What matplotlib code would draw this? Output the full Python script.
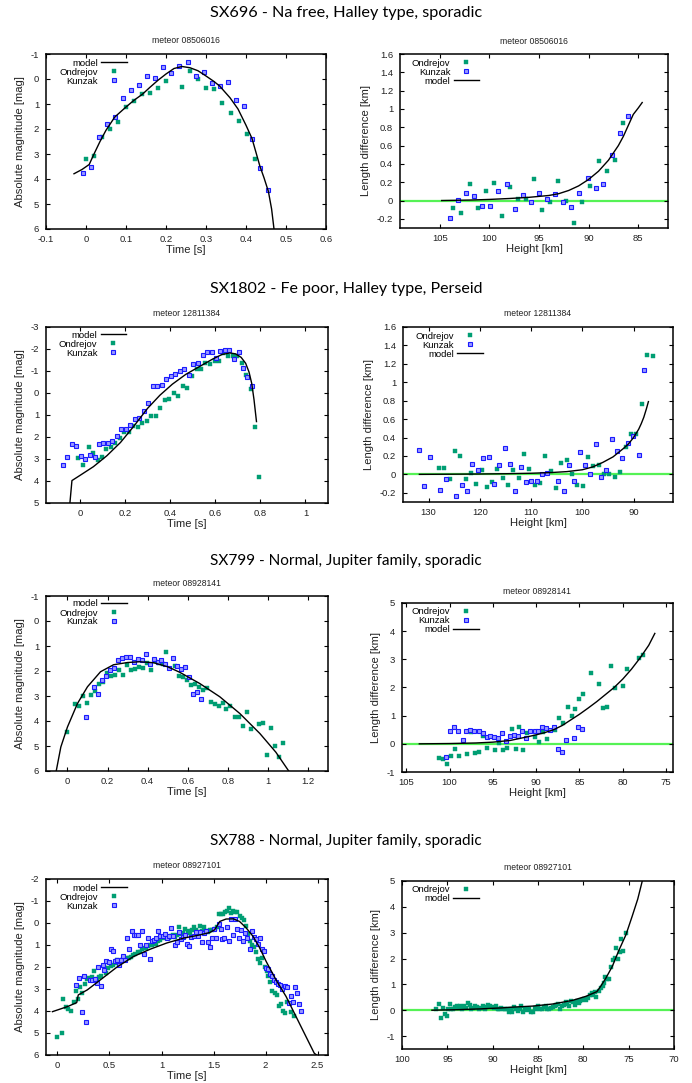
import numpy as np
import matplotlib
matplotlib.use('Agg')
import matplotlib.pyplot as plt
from matplotlib.ticker import FuncFormatter

plt.rcParams['font.family'] = ['Liberation Sans', 'DejaVu Sans']
plt.rcParams['axes.unicode_minus'] = False

# ---------------- titles ----------------
row_titles = ["SX696 - Na free, Halley type, sporadic",
              "SX1802 - Fe poor, Halley type, Perseid",
              "SX799 - Normal, Jupiter family, sporadic",
              "SX788 - Normal, Jupiter family, sporadic"]
meteor_ids = ["meteor 08506016", "meteor 12811384", "meteor 08928141", "meteor 08927101"]

# ---------------- panel 1: SX696 light curve ----------------
p1_ond = np.array([(0.001, 3.21), (0.021, 3.07), (0.041, 2.31), (0.061, 2.01), (0.081, 1.73), (0.101, 1.12),
                   (0.121, 0.89), (0.141, 0.61), (0.161, 0.57), (0.181, 0.37), (0.201, 0.09), (0.241, 0.33),
                   (0.261, -0.31), (0.281, -0.02), (0.301, 0.34), (0.321, 0.38), (0.341, 0.97), (0.3625, 1.37),
                   (0.3825, 1.69), (0.4025, 2.21), (0.4225, 3.21)])
p1_kun = np.array([(-0.008, 3.75), (0.012, 3.51), (0.032, 2.31), (0.052, 1.78), (0.072, 1.52), (0.0925, 0.74),
                   (0.1125, 0.45), (0.1325, 0.24), (0.1525, -0.12), (0.1725, -0.06), (0.1925, -0.47), (0.213, -0.25),
                   (0.233, -0.51), (0.254, -0.67), (0.274, -0.12), (0.294, -0.29), (0.314, 0.14), (0.334, 0.28),
                   (0.355, 0.10), (0.375, 0.82), (0.395, 1.08), (0.415, 2.38), (0.435, 3.54), (0.456, 4.43)])
p1_mod = np.array([(-0.03, 3.79), (-0.01, 3.62), (0.008, 3.42), (0.02, 3.0), (0.035, 2.5), (0.05, 2.05),
                   (0.072, 1.52), (0.1, 1.12), (0.12, 0.85), (0.141, 0.61), (0.16, 0.33), (0.18, 0.05),
                   (0.2, -0.2), (0.22, -0.42), (0.24, -0.5), (0.26, -0.45), (0.28, -0.33), (0.3, -0.12),
                   (0.32, 0.1), (0.334, 0.28), (0.36, 0.75), (0.38, 1.2), (0.4, 1.85), (0.415, 2.38),
                   (0.435, 3.5), (0.445, 3.95), (0.456, 4.5), (0.464, 5.2), (0.47, 6.0)])

# ---------------- panel 2: SX696 length difference ----------------
p2_ond = np.array([(103.69, -0.084), (102.82, -0.139), (101.97, 0.183), (101.17, -0.084), (100.36, 0.103),
                   (99.55, 0.19), (98.75, -0.172), (97.94, 0.146), (97.13, 0.018), (96.33, 0.018), (95.52, 0.234),
                   (94.71, -0.106), (93.91, -0.015), (93.10, 0.212), (92.29, -0.007), (91.49, -0.249),
                   (90.68, -0.015), (89.81, 0.157), (88.97, 0.432), (88.16, 0.322), (87.35, 0.443), (86.55, 0.85)])
p2_kun = np.array([(103.96, -0.19), (103.12, 0.011), (102.31, 0.077), (101.50, 0.044), (100.70, -0.055),
                   (99.89, -0.055), (99.08, 0.099), (98.24, 0.179), (97.44, -0.088), (96.63, 0.059),
                   (95.82, -0.015), (95.02, 0.077), (94.18, 0.018), (93.37, 0.073), (92.56, -0.018),
                   (91.76, -0.073), (90.92, 0.077), (90.11, 0.245), (89.30, 0.135), (88.50, 0.183),
                   (87.69, 0.498), (86.88, 0.732), (86.08, 0.919)])
p2_mod = np.array([(104.8, 0.0), (102, 0.005), (100, 0.012), (98, 0.022), (96, 0.035), (94, 0.055), (93, 0.075),
                   (92, 0.11), (91, 0.16), (90, 0.23), (89, 0.32), (88, 0.44), (87, 0.6), (86.5, 0.7), (86, 0.82),
                   (85.5, 0.94), (85, 1.01), (84.6, 1.07)])

# ---------------- panel 3: SX1802 light curve ----------------
p3_ond = np.array([(-0.007, 2.96), (0.016, 3.28), (0.040, 2.46), (0.057, 2.74), (0.079, 3.05), (0.097, 2.92),
                   (0.117, 2.55), (0.136, 2.46), (0.157, 2.27), (0.176, 2.03), (0.196, 1.78), (0.217, 1.78),
                   (0.236, 1.50), (0.257, 1.56), (0.277, 1.36), (0.298, 1.29), (0.317, 1.05), (0.337, 1.05),
                   (0.356, 0.70), (0.377, 0.34), (0.397, 0.25), (0.416, 0.02), (0.437, 0.12), (0.457, -0.33),
                   (0.477, -0.21), (0.497, -0.77), (0.518, -1.10), (0.537, -1.08), (0.557, -1.38), (0.576, -1.34),
                   (0.597, -1.45), (0.617, -1.45), (0.636, -1.82), (0.657, -1.70), (0.677, -1.70), (0.696, -1.70),
                   (0.717, -1.38), (0.736, -0.84), (0.757, -0.18), (0.777, 1.56), (0.796, 3.82)])
p3_kun = np.array([(-0.076, 3.26), (-0.056, 2.90), (-0.035, 2.33), (-0.015, 2.39), (0.004, 2.86), (0.025, 2.99),
                   (0.044, 2.84), (0.065, 2.90), (0.084, 2.30), (0.104, 2.25), (0.125, 2.25), (0.144, 2.18),
                   (0.164, 1.94), (0.183, 1.63), (0.204, 1.62), (0.223, 1.45), (0.243, 1.18), (0.264, 1.12),
                   (0.283, 0.82), (0.304, 0.47), (0.324, -0.34), (0.343, -0.34), (0.364, -0.37), (0.384, -0.62),
                   (0.403, -0.77), (0.424, -0.87), (0.444, -1.01), (0.463, -1.10), (0.484, -0.81), (0.503, -1.31),
                   (0.523, -1.35), (0.544, -1.72), (0.563, -1.85), (0.584, -1.85), (0.604, -1.61), (0.623, -1.91),
                   (0.643, -1.94), (0.663, -1.97), (0.683, -1.55), (0.704, -1.85), (0.723, -1.14), (0.743, -0.74),
                   (0.764, -0.31)])
p3_mod = np.array([(-0.044, 5.0), (-0.035, 3.98), (0.0, 3.75), (0.06, 3.35), (0.12, 2.85), (0.18, 2.25),
                   (0.24, 1.5), (0.3, 0.7), (0.355, 0.1), (0.41, -0.4), (0.47, -0.85), (0.53, -1.2), (0.59, -1.55),
                   (0.63, -1.75), (0.665, -1.82), (0.69, -1.78), (0.715, -1.62), (0.735, -1.35), (0.75, -0.95),
                   (0.762, -0.43), (0.772, 0.3), (0.783, 1.3)])

# ---------------- panel 4: SX1802 length difference ----------------
p4_ond = np.array([(128.04, 0.072), (127.06, 0.072), (125.88, -0.047), (124.90, 0.257), (123.92, 0.203),
                   (122.75, -0.054), (121.76, 0.018), (120.78, -0.101), (119.61, 0.051), (118.63, -0.134),
                   (117.65, -0.080), (116.67, 0.062), (115.49, -0.036), (114.51, -0.112), (113.53, 0.051),
                   (112.35, -0.036), (111.37, 0.224), (110.39, 0.062), (109.22, -0.112), (108.24, -0.090),
                   (107.25, 0.203), (106.08, 0.040), (105.10, -0.145), (104.12, 0.127), (102.94, 0.159),
                   (101.96, 0.007), (100.98, -0.112), (99.80, -0.123), (98.82, 0.192), (97.84, 0.094),
                   (96.67, 0.105), (95.69, 0.007), (94.71, 0.007), (93.53, -0.025), (92.55, 0.029),
                   (91.57, 0.300), (90.59, 0.442), (89.61, 0.434), (88.43, 0.767), (87.45, 1.30), (86.27, 1.289)])
p4_kun = np.array([(131.96, 0.268), (130.85, -0.127), (129.74, 0.192), (127.71, -0.170), (126.60, -0.047),
                   (124.58, -0.235), (123.53, -0.116), (122.42, -0.177), (121.44, 0.112), (120.39, 0.043),
                   (119.35, 0.174), (118.30, 0.192), (117.25, -0.101), (116.21, 0.101), (115.16, 0.290),
                   (114.12, 0.112), (113.07, -0.181), (112.03, 0.083), (110.98, -0.087), (109.93, -0.072),
                   (108.89, -0.076), (107.84, 0.0), (106.80, 0.014), (104.71, -0.072), (103.66, -0.181),
                   (102.61, 0.101), (101.57, -0.072), (100.52, 0.243), (99.48, 0.105), (98.43, 0.007),
                   (97.39, 0.326), (96.34, -0.029), (95.29, 0.047), (94.25, 0.380), (93.20, 0.257),
                   (92.16, 0.181), (91.11, 0.337), (90.07, 0.420), (89.02, 0.214), (87.97, 1.129)])
p4_mod = np.array([(131.8, 0.0), (125, 0.002), (120, 0.004), (115, 0.007), (110, 0.012), (106, 0.02), (103, 0.03),
                   (100, 0.05), (98, 0.08), (96, 0.13), (94, 0.19), (92, 0.28), (91, 0.33), (90, 0.40), (89, 0.49),
                   (88.5, 0.55), (88, 0.62), (87.5, 0.71), (87.1, 0.79)])

# ---------------- panel 5: SX799 light curve ----------------
p5_ond = np.array([(0.0, 4.42), (0.040, 3.30), (0.060, 3.41), (0.079, 2.98), (0.099, 3.26), (0.119, 2.94),
                   (0.139, 2.78), (0.159, 2.50), (0.179, 2.43), (0.198, 2.09), (0.218, 2.21), (0.238, 2.14),
                   (0.258, 1.94), (0.278, 2.14), (0.298, 1.75), (0.317, 1.94), (0.337, 1.90), (0.357, 1.82),
                   (0.377, 1.86), (0.397, 1.66), (0.417, 1.94), (0.436, 1.58), (0.456, 1.66), (0.476, 1.70),
                   (0.493, 1.22), (0.536, 1.78), (0.555, 2.18), (0.575, 2.22), (0.595, 2.34), (0.615, 2.54),
                   (0.635, 2.50), (0.655, 2.62), (0.674, 2.74), (0.694, 2.66), (0.714, 3.22), (0.734, 3.30),
                   (0.754, 3.41), (0.774, 3.26), (0.793, 3.50), (0.813, 3.41), (0.836, 3.82), (0.856, 3.82),
                   (0.876, 4.18), (0.896, 3.62), (0.916, 4.30), (0.955, 4.10), (0.975, 4.06), (0.995, 5.35),
                   (1.015, 4.26), (1.035, 4.98), (1.055, 5.43), (1.074, 4.86)])
p5_kun = np.array([(0.093, 3.82), (0.132, 2.62), (0.152, 2.91), (0.172, 2.34), (0.192, 2.19), (0.212, 1.94),
                   (0.231, 1.86), (0.251, 1.55), (0.271, 1.48), (0.291, 1.44), (0.311, 1.44), (0.331, 1.62),
                   (0.350, 1.51), (0.370, 1.55), (0.390, 1.30), (0.410, 1.70), (0.430, 1.51), (0.450, 1.63),
                   (0.469, 1.55), (0.489, 1.70), (0.509, 1.87), (0.529, 1.47), (0.549, 1.81), (0.569, 1.93),
                   (0.588, 1.82), (0.608, 2.25), (0.628, 2.91), (0.648, 2.85), (0.668, 3.13)])
p5_mod = np.array([(-0.056, 6.0), (-0.033, 5.04), (0.0, 4.24), (0.05, 3.3), (0.1, 2.63), (0.165, 2.03),
                   (0.23, 1.75), (0.3, 1.66), (0.36, 1.63), (0.43, 1.67), (0.5, 1.83), (0.56, 2.05), (0.66, 2.5),
                   (0.76, 3.03), (0.86, 3.7), (0.96, 4.5), (1.04, 5.25), (1.104, 6.0)])

# ---------------- panel 6: SX799 length difference ----------------
p6_ond = np.array([(101.22, -0.51), (100.73, -0.54), (100.32, -0.71), (99.86, -0.44), (99.41, -0.17),
                   (98.88, -0.44), (97.97, -0.37), (97.48, 0.42), (97.03, -0.33), (96.58, -0.28), (96.12, 0.27),
                   (95.67, -0.15), (94.76, -0.22), (94.31, 0.02), (93.86, -0.22), (93.40, -0.15), (92.84, 0.52),
                   (92.38, -0.19), (91.93, 0.59), (91.48, -0.22), (91.02, 0.38), (90.12, 0.24), (89.66, 0.06),
                   (89.21, 0.41), (88.76, 0.17), (87.85, 0.48), (87.40, 0.90), (86.94, 0.73), (86.38, 1.30),
                   (85.92, 0.98), (85.47, 1.23), (85.01, 1.58), (84.56, 1.76), (83.66, 2.50), (82.75, 2.11),
                   (82.29, 1.26), (81.84, 1.30), (81.39, 2.75), (80.94, 1.97), (79.92, 2.04), (79.46, 2.64),
                   (78.10, 3.04), (77.65, 3.17)])
p6_kun = np.array([(100.39, -0.45), (99.94, 0.46), (99.48, 0.61), (98.99, 0.44), (98.50, 0.15), (98.09, 0.44),
                   (97.63, 0.50), (97.14, 0.44), (96.65, 0.44), (96.20, 0.40), (95.74, 0.26), (95.29, 0.29),
                   (94.84, 0.26), (94.38, 0.19), (93.93, 0.38), (93.44, 0.09), (92.99, 0.29), (92.53, 0.32),
                   (92.08, 0.29), (91.63, 0.46), (91.17, 0.19), (90.72, 0.47), (90.19, 0.44), (89.74, 0.44),
                   (89.28, 0.61), (88.83, 0.57), (88.38, 0.50), (87.92, 0.61), (87.47, -0.20), (86.98, -0.28),
                   (86.53, 0.13), (85.62, 0.20), (85.17, 0.60), (84.68, 0.52)])
p6_mod = np.array([(103.5, 0.0), (100, 0.01), (97, 0.03), (95, 0.06), (93, 0.12), (91, 0.25), (90, 0.32),
                   (89, 0.40), (88, 0.50), (87, 0.65), (86, 0.85), (85, 1.05), (84, 1.27), (83, 1.50), (82, 1.75),
                   (81, 2.0), (80, 2.3), (79, 2.65), (78, 3.05), (77, 3.5), (76.3, 3.92)])

# ---------------- panel 7: SX788 light curve ----------------
p7_ond = np.array([(0.0, 5.2), (0.04, 4.98), (0.057, 3.47), (0.085, 3.83), (0.105, 3.92), (0.13, 3.98),
                   (0.16, 3.57), (0.175, 3.1), (0.2, 3.45), (0.22, 2.9), (0.24, 3.2), (0.26, 2.75), (0.28, 2.55),
                   (0.3, 2.5), (0.33, 2.45), (0.35, 2.2), (0.38, 2.55), (0.4, 2.45), (0.42, 2.4), (0.45, 1.95),
                   (0.47, 2.25), (0.49, 2.05), (0.51, 1.95), (0.53, 1.9), (0.55, 1.8), (0.57, 1.7), (0.59, 1.75),
                   (0.62, 1.7), (0.64, 1.6), (0.67, 1.6), (0.69, 1.6), (0.71, 1.55), (0.73, 1.45), (0.75, 1.4),
                   (0.77, 1.3), (0.79, 1.3), (0.81, 1.2), (0.83, 1.15), (0.85, 1.12), (0.87, 1.05), (0.89, 1.0),
                   (0.91, 1.0), (0.93, 0.9), (0.95, 0.95), (0.97, 0.82), (0.99, 0.78), (1.01, 0.7), (1.03, 0.65),
                   (1.05, 0.65), (1.07, 0.7), (1.09, 0.6), (1.11, 0.55), (1.13, 0.65), (1.15, 0.55), (1.17, 0.2),
                   (1.19, 0.5), (1.21, 0.45), (1.23, 0.25), (1.25, 0.35), (1.27, 0.45), (1.29, 0.3), (1.31, 0.2),
                   (1.33, 0.3), (1.35, 0.4), (1.37, 0.15), (1.39, 0.35), (1.41, 0.2), (1.43, 0.35), (1.45, 0.4),
                   (1.47, 0.3), (1.49, 0.3), (1.51, 0.25), (1.53, 0.2), (1.55, -0.4), (1.57, -0.42), (1.59, -0.4),
                   (1.61, -0.5), (1.63, -0.55), (1.65, -0.7), (1.67, -0.45), (1.69, -0.55), (1.71, -0.5),
                   (1.73, -0.5), (1.75, -0.3), (1.77, -0.25), (1.79, -0.15), (1.81, 0.15), (1.83, 0.5),
                   (1.85, 0.8), (1.87, 1.0), (1.89, 1.1), (1.91, 1.3), (1.93, 1.65), (1.95, 1.8), (1.97, 1.6),
                   (1.99, 2.0), (2.01, 2.2), (2.02, 2.39), (2.04, 2.69), (2.06, 3.09), (2.09, 3.16), (2.11, 3.28),
                   (2.13, 3.75), (2.15, 3.68), (2.17, 3.98), (2.19, 4.07), (2.21, 3.59), (2.24, 4.04), (2.27, 4.22)])
p7_kun = np.array([(0.175, 2.83), (0.21, 2.52), (0.232, 4.03), (0.252, 2.42), (0.277, 4.50), (0.312, 2.57),
                   (0.334, 2.57), (0.357, 2.55), (0.376, 2.71), (0.392, 2.01), (0.414, 2.86), (0.433, 1.90),
                   (0.452, 2.13), (0.471, 1.72), (0.494, 1.75), (0.513, 1.16), (0.532, 1.26), (0.554, 1.73),
                   (0.573, 1.66), (0.592, 1.89), (0.611, 1.70), (0.634, 1.49), (0.653, 1.69), (0.672, 0.70),
                   (0.691, 1.19), (0.713, 0.35), (0.732, 0.55), (0.752, 0.55), (0.771, 0.55), (0.793, 1.02),
                   (0.812, 0.35), (0.831, 1.40), (0.850, 1.02), (0.873, 0.69), (0.892, 1.64), (0.911, 0.84),
                   (0.930, 0.79), (0.949, 0.69), (0.971, 0.37), (0.990, 0.61), (1.01, 0.58), (1.029, 0.50),
                   (1.051, 0.69), (1.07, 0.58), (1.089, 0.22), (1.108, 0.58), (1.127, 0.98), (1.15, 0.85),
                   (1.169, 0.43), (1.188, 0.73), (1.207, 0.64), (1.229, 0.55), (1.248, 0.94), (1.268, 1.05),
                   (1.287, 0.63), (1.309, 0.58), (1.328, 0.40), (1.347, 0.58), (1.366, 0.40), (1.389, 0.87),
                   (1.408, 0.44), (1.427, 0.38), (1.446, 0.88), (1.468, 1.10), (1.487, 0.69), (1.506, 0.28),
                   (1.525, 0.69), (1.548, 0.05), (1.567, 0.25), (1.586, 0.73), (1.605, 0.66), (1.627, 0.16),
                   (1.646, 0.81), (1.666, -0.18), (1.688, 0.54), (1.707, -0.18), (1.726, 0.26), (1.745, 0.66),
                   (1.768, 0.34), (1.787, 0.82), (1.806, 0.46), (1.825, 0.69), (1.847, 1.16), (1.866, 0.37),
                   (1.885, 0.63), (1.904, 0.73), (1.927, 0.96), (1.946, 0.69), (1.965, 1.19), (1.984, 1.29),
                   (2.003, 2.04), (2.025, 2.07), (2.045, 2.34), (2.064, 2.43), (2.083, 2.58), (2.105, 2.66),
                   (2.124, 2.75), (2.143, 2.83), (2.162, 2.99), (2.185, 2.86), (2.204, 2.93), (2.223, 3.62),
                   (2.242, 3.34), (2.264, 3.59), (2.283, 2.90), (2.303, 3.19), (2.322, 3.69), (2.341, 4.01)])
p7_mod = np.array([(-0.048, 4.03), (0.096, 3.8), (0.185, 3.62), (0.2, 3.27), (0.287, 3.04), (0.414, 2.58),
                   (0.573, 2.0), (0.732, 1.52), (0.892, 1.19), (1.05, 0.91), (1.21, 0.69), (1.37, 0.54),
                   (1.465, 0.43), (1.51, 0.31), (1.56, -0.07), (1.62, -0.18), (1.69, -0.19), (1.75, -0.07),
                   (1.815, 0.23), (1.88, 0.61), (1.94, 1.1), (2.006, 1.75), (2.10, 2.58), (2.197, 3.34),
                   (2.325, 4.56), (2.468, 5.92), (2.49, 6.0)])

# ---------------- panel 8: SX788 length difference ----------------
p8_ond = np.array([(96.25, 0.03), (95.92, 0.26), (95.67, -0.30), (95.48, 0.09), (95.30, -0.13), (95.08, -0.21),
                   (94.90, 0.06), (94.75, 0.26), (94.56, 0.03), (94.34, 0.06), (94.16, 0.13), (93.98, 0.18),
                   (93.76, 0.09), (93.57, 0.15), (93.35, 0.03), (93.17, 0.18), (92.95, 0.09), (92.73, 0.28),
                   (92.54, 0.22), (92.36, 0.05), (92.14, 0.09), (91.92, 0.15), (91.74, 0.13), (91.52, 0.05),
                   (91.30, 0.09), (91.11, 0.15), (90.89, 0.05), (90.71, 0.13), (90.49, 0.22), (90.30, 0.15),
                   (90.08, 0.13), (89.86, 0.09), (89.68, 0.15), (89.46, 0.05), (89.28, 0.03), (89.06, 0.09),
                   (88.87, 0.05), (88.65, 0.03), (88.43, 0.06), (88.25, -0.05), (88.03, 0.03), (87.84, -0.05),
                   (87.62, 0.13), (87.44, 0.06), (87.22, -0.03), (87.04, 0.05), (86.82, 0.15), (86.63, -0.05),
                   (86.41, 0.03), (86.23, 0.0), (86.01, 0.06), (85.82, -0.05), (85.60, -0.05), (85.38, 0.09),
                   (85.20, 0.03), (84.98, 0.15), (84.80, 0.06), (84.58, 0.03), (84.39, 0.13), (84.17, 0.18),
                   (83.99, 0.06), (83.77, 0.03), (83.58, 0.09), (83.36, 0.13), (83.14, 0.15), (82.96, 0.22),
                   (82.74, 0.26), (82.56, 0.06), (82.34, 0.15), (82.15, 0.22), (81.93, 0.31), (81.75, 0.26),
                   (81.53, 0.18), (81.34, 0.35), (81.12, 0.31), (80.90, 0.22), (80.72, 0.35), (80.50, 0.28),
                   (80.32, 0.35), (80.10, 0.41), (79.88, 0.44), (79.69, 0.39), (79.47, 0.48), (79.29, 0.57),
                   (79.07, 0.67), (78.88, 0.57), (78.66, 0.69), (78.55, 0.51), (78.26, 0.73), (78.08, 0.86),
                   (77.86, 0.93), (77.67, 1.05), (77.56, 1.29), (77.34, 1.21), (77.16, 1.21), (76.94, 1.67),
                   (76.75, 1.93), (76.53, 2.02), (76.35, 2.40), (76.13, 1.98), (75.95, 2.25), (75.84, 2.75),
                   (75.62, 2.31), (75.32, 2.98)])
p8_mod = np.array([(96.7, 0.0), (94, 0.02), (91.5, 0.05), (89, 0.09), (87.8, 0.12), (85.6, 0.16), (83.4, 0.24),
                   (81.2, 0.38), (79.7, 0.54), (78.5, 0.72), (78.1, 0.92), (77.5, 1.25), (76.8, 1.7), (76.1, 2.3),
                   (75.3, 2.92), (74.6, 3.65), (74.0, 4.3), (73.5, 5.0)])

# ---------------- axis labels ----------------
mag_label = "Absolute magnitude [mag]"
len_label = "Length difference [km]"
time_label = "Time [s]"
height_label = "Height [km]"

# ---------------- figure ----------------
W, H = 692, 1083
fig = plt.figure(figsize=(W / 100, H / 100), dpi=100)

GREEN = '#009e73'
BLUE_EDGE = '#1a1aff'
BLUE_FACE = '#9a9aff'
ZERO = '#55f255'


def ax_at(x0, y0, x1, y1):
    return fig.add_axes([x0 / W, 1 - y1 / H, (x1 - x0) / W, (y1 - y0) / H])


fmt = FuncFormatter(lambda v, p: f'{v:g}')


def style(ax, xlim, ylim, xticks, yticks, xlabel, ylabel):
    ax.set_xlim(*xlim)
    ax.set_ylim(*ylim)
    ax.set_xticks(xticks)
    ax.set_yticks(yticks)
    ax.xaxis.set_major_formatter(fmt)
    ax.yaxis.set_major_formatter(fmt)
    ax.tick_params(direction='in', top=True, right=True, length=3.2, width=0.8,
                   labelsize=6.8, colors='black', labelcolor='#222222')
    ax.tick_params(axis='x', pad=4.2)
    ax.tick_params(axis='y', pad=5)
    for s in ax.spines.values():
        s.set_linewidth(1.1)
    ax.set_xlabel(xlabel, fontsize=8.1, labelpad=0.8, color='#222222')
    ax.set_ylabel(ylabel, fontsize=8.1, labelpad=3.8, color='#222222')


def pts_ond(ax, d):
    ax.plot(d[:, 0], d[:, 1], ls='none', marker='s', ms=2.4, mfc=GREEN, mec=GREEN, mew=0.3,
            label='Ondrejov', zorder=3)


def pts_kun(ax, d):
    ax.plot(d[:, 0], d[:, 1], ls='none', marker='s', ms=3.2, mfc=BLUE_FACE, mec=BLUE_EDGE, mew=0.8,
            label='Kunzak', zorder=3)


def model(ax, d):
    ax.plot(d[:, 0], d[:, 1], color='black', lw=1.0, label='model', zorder=4)


def legend(ax, xa, ya=0.974):
    ax.legend(loc='upper right', bbox_to_anchor=(xa, ya), markerfirst=False, frameon=False,
              fontsize=6.8, handlelength=2.7, handletextpad=0.35, labelspacing=0.0,
              borderpad=0, borderaxespad=0, numpoints=1)


# panel 1
a1 = ax_at(46, 54, 326, 229)
model(a1, p1_mod); pts_ond(a1, p1_ond); pts_kun(a1, p1_kun)
style(a1, (-0.1, 0.6), (6, -1), np.arange(-0.1, 0.61, 0.1), np.arange(-1, 7, 1), time_label, mag_label)
legend(a1, 0.289)

# panel 2
a2 = ax_at(400, 54, 668, 228)
a2.axhline(0, color=ZERO, lw=1.6, zorder=1)
pts_ond(a2, p2_ond); pts_kun(a2, p2_kun); model(a2, p2_mod)
style(a2, (109, 82), (-0.3, 1.6), [105, 100, 95, 90, 85], np.arange(-0.2, 1.61, 0.2), height_label, len_label)
legend(a2, 0.295)

# panel 3
a3 = ax_at(46, 327, 328, 503)
model(a3, p3_mod); pts_ond(a3, p3_ond); pts_kun(a3, p3_kun)
style(a3, (-0.15, 1.1), (5, -3), [0, 0.2, 0.4, 0.6, 0.8, 1], np.arange(-3, 6, 1), time_label, mag_label)
legend(a3, 0.284, 0.98)

# panel 4
a4 = ax_at(403, 327, 673, 502)
a4.axhline(0, color=ZERO, lw=1.6, zorder=1)
pts_ond(a4, p4_ond); pts_kun(a4, p4_kun); model(a4, p4_mod)
style(a4, (135, 82.3), (-0.3, 1.6), [130, 120, 110, 100, 90], np.arange(-0.2, 1.61, 0.2), height_label, len_label)
legend(a4, 0.296)

# panel 5
a5 = ax_at(46, 596, 328, 771)
model(a5, p5_mod); pts_ond(a5, p5_ond); pts_kun(a5, p5_kun)
style(a5, (-0.107, 1.3), (6, -1), [0, 0.2, 0.4, 0.6, 0.8, 1, 1.2], np.arange(-1, 7, 1), time_label, mag_label)
legend(a5, 0.287, 0.98)

# panel 6
a6 = ax_at(402, 603, 673, 772)
a6.axhline(0, color=ZERO, lw=1.6, zorder=1)
pts_ond(a6, p6_ond); pts_kun(a6, p6_kun); model(a6, p6_mod)
style(a6, (105.5, 74.2), (-1, 5), [105, 100, 95, 90, 85, 80, 75], np.arange(-1, 6, 1), height_label, len_label)
legend(a6, 0.284)

# panel 7
a7 = ax_at(46, 879, 328, 1055)
model(a7, p7_mod); pts_ond(a7, p7_ond); pts_kun(a7, p7_kun)
style(a7, (-0.11, 2.6), (6, -2), [0, 0.5, 1, 1.5, 2, 2.5], np.arange(-2, 7, 1), time_label, mag_label)
legend(a7, 0.287)

# panel 8
a8 = ax_at(402, 881, 674, 1049)
a8.axhline(0, color=ZERO, lw=1.6, zorder=1)
pts_ond(a8, p8_ond); model(a8, p8_mod)
style(a8, (100, 70), (-1.5, 5), [100, 95, 90, 85, 80, 75, 70], np.arange(-1, 6, 1), height_label, len_label)
legend(a8, 0.283)

# subtitles
sub_pos = [((186, 40.7), (534, 41.7)), ((187, 313), (538, 313)), ((187, 583), (537, 591)), ((187, 865), (538, 867))]
for mid, (pl, pr) in zip(meteor_ids, sub_pos):
    for (x, y) in (pl, pr):
        fig.text(x / W, 1 - y / H, mid, ha='center', va='center', fontsize=6.2, color='#222222')

# row titles (scaled to reference width)
title_baselines = [17.3, 292.5, 565, 845]
r = fig.canvas.get_renderer()
for t, yb in zip(row_titles, title_baselines):
    tx = fig.text(0.5, 1 - yb / H, t, ha='center', va='baseline', fontsize=11,
                  family=['Lato', 'DejaVu Sans'], color='black')
    w = tx.get_window_extent(renderer=r).width
    tx.set_fontsize(11 * 272.0 / w)

fig.savefig('out.png', dpi=100)
